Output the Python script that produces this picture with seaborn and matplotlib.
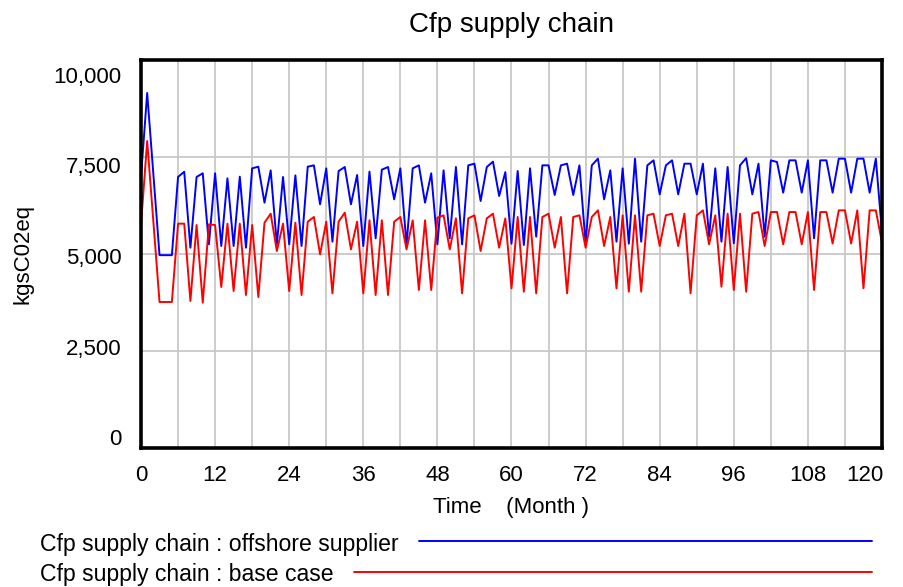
import numpy as np
import pandas as pd
import seaborn as sns
import matplotlib.pyplot as plt
from matplotlib.lines import Line2D
from matplotlib.transforms import ScaledTranslation

# valores (mensual, 0..120)
months = list(range(0, 121))

offshore = [
    6990, 9150, 7060, 4970, 4970, 4970, 6985, 7120, 5163, 6985,
    7080, 5250, 7080, 5206, 6950, 5206, 6993, 5163, 7208, 7250,
    6323, 7156, 5250, 6985, 5250, 7027, 5206, 7250, 7285, 6280,
    7208, 5318, 7139, 7242, 6280, 7036, 5206, 7122, 5404, 7173,
    7242, 6409, 7208, 5232, 7208, 7285, 6323, 7079, 5249, 7156,
    5404, 7242, 5249, 7285, 7328, 6366, 7242, 7380, 6495, 7110,
    5266, 7139, 5232, 7208, 5447, 7285, 7285, 6521, 7285, 7328,
    6521, 7285, 5266, 7285, 7457, 6409, 7156, 5318, 7208, 5266,
    7457, 5318, 7285, 7414, 6538, 7285, 7414, 6538, 7328, 7328,
    6538, 7328, 5447, 7208, 5318, 7242, 5275, 7285, 7470, 6538,
    7328, 5447, 7414, 7371, 6581, 7414, 7414, 6581, 7414, 5404,
    7414, 7414, 6581, 7457, 7457, 6581, 7457, 7457, 6581, 7457,
    5550,
]

base_case = [
    5760, 7912, 5840, 3763, 3763, 3763, 5782, 5782, 3789, 5747,
    3746, 5765, 5747, 4150, 5782, 4046, 5782, 3943, 5747, 3892,
    5807, 6039, 5077, 5782, 4046, 5807, 3943, 5833, 5954, 4991,
    5833, 3986, 5833, 6065, 5120, 5833, 3986, 5868, 3943, 5868,
    3943, 5833, 5954, 5120, 5868, 4072, 5868, 4072, 5936, 5997,
    5120, 5919, 3986, 5919, 5997, 5077, 5919, 6039, 5163, 5919,
    4115, 5954, 4029, 5954, 3986, 5954, 6039, 5163, 5954, 3986,
    5954, 5997, 5163, 5954, 6125, 5206, 5954, 4115, 5997, 4029,
    5997, 4029, 5997, 6039, 5206, 5997, 6039, 5206, 6039, 3986,
    5997, 6125, 5249, 5997, 4158, 6039, 4072, 6039, 4029, 6039,
    6082, 5206, 6082, 6082, 5249, 6082, 6082, 5249, 6082, 4072,
    6082, 6082, 5270, 6125, 6125, 5270, 6125, 4115, 6125, 6125,
    5290,
]

series_names = ['Cfp supply chain : offshore supplier', 'Cfp supply chain : base case']
series_colors = ['#0000ff', '#ff0000']
x_ticks = list(range(0, 121, 12))
y_ticks = [0, 2500, 5000, 7500, 10000]
y_tick_labels = ['0', '2,500', '5,000', '7,500', '10,000']

df = pd.DataFrame({
    'Time': months + months,
    'valor': offshore + base_case,
    'serie': [series_names[0]] * len(months) + [series_names[1]] * len(months),
})

sns.set_style('white')
plt.rcParams['font.family'] = ['Liberation Sans', 'DejaVu Sans']
plt.rcParams['text.color'] = 'black'
plt.rcParams['axes.labelcolor'] = 'black'
plt.rcParams['xtick.color'] = 'black'
plt.rcParams['ytick.color'] = 'black'

fig = plt.figure(figsize=(9.04, 5.87), dpi=100)
ax = fig.add_axes([141 / 904, 1 - 448 / 587, 741 / 904, 388 / 587])

sns.lineplot(data=df, x='Time', y='valor', hue='serie',
             palette=dict(zip(series_names, series_colors)),
             linewidth=1.4, legend=False, ax=ax, zorder=3)

ax.set_xlim(0, 120)
ax.set_ylim(0, 10000)
ax.set_xticks(x_ticks)
ax.set_xticks(range(6, 121, 12), minor=True)
ax.set_yticks(y_ticks)
ax.set_yticklabels(y_tick_labels)
ax.tick_params(axis='both', which='both', length=0, labelsize=16)
ax.tick_params(axis='x', pad=12)
ax.tick_params(axis='y', pad=14)
ax.grid(True, which='both', color='#c8c8c8', linewidth=1.3)

# Vensim pone las etiquetas del eje y algo juntas hacia el centro
for v, lab in zip(y_ticks, ax.get_yticklabels()):
    dy = (-11 + 26 * v / 10000) / 100
    lab.set_transform(lab.get_transform() + ScaledTranslation(0, -dy, fig.dpi_scale_trans))
last = ax.get_xticklabels()[-1]
last.set_transform(last.get_transform() + ScaledTranslation(-0.17, 0, fig.dpi_scale_trans))

for s in ax.spines.values():
    s.set_visible(True)
    s.set_color('black')
    s.set_linewidth(2.6)
    s.set_zorder(5)

ax.set_title('Cfp supply chain', fontsize=20, pad=20)
ax.set_xlabel('Time    (Month )', fontsize=16, labelpad=8)
ax.set_ylabel('kgsC02eq', fontsize=16, labelpad=14)

# leyenda estilo Vensim: texto y linea hasta el borde derecho
fig.canvas.draw()
renderer = fig.canvas.get_renderer()
rows_y = [544, 575]
for name, color, ry in zip(series_names, series_colors, rows_y):
    t = fig.text(40 / 904, 1 - ry / 587, name, fontsize=16.6, va='center', ha='left')
    bb = t.get_window_extent(renderer=renderer)
    x0 = (bb.x1 + 20) / 904
    yl = 1 - (ry - 3) / 587
    fig.add_artist(Line2D([x0, 872 / 904], [yl, yl], color=color, linewidth=1.4,
                          transform=fig.transFigure))

fig.savefig('out.png', dpi=100)
